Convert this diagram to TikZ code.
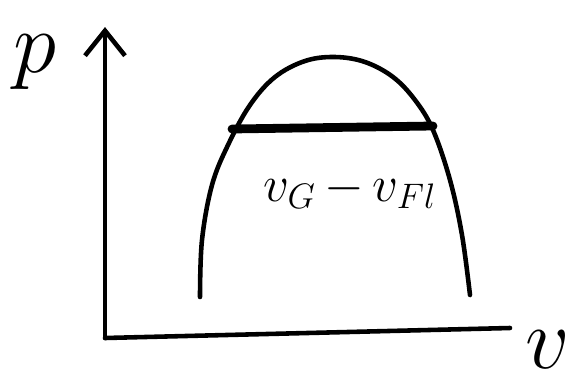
\documentclass[tikz,border=0pt]{standalone}
\usetikzlibrary{arrows.meta}
\begin{document}
\begin{tikzpicture}[
    x=0.02cm, y=-0.02cm,
    stroke/.style={line width=2.6pt, line cap=round, line join=round},
    heavy/.style={line width=5pt, line cap=round},
    axislbl/.style={font=\fontsize{20}{24}\selectfont, inner sep=0pt},
    difflbl/.style={font=\fontsize{20}{24}\selectfont, inner sep=0pt}
]
\useasboundingbox (0,0) rectangle (582,386);

% axes
\coordinate (origin) at (105,338);
\coordinate (ptop)   at (105,27);
\coordinate (vend)   at (510,328);
\draw[stroke, -{Straight Barb[length=5mm, width=8mm]}] (origin) -- (ptop);
\draw[stroke] (origin) -- (vend);
\node[axislbl] (plbl) at (35,62)  {\scalebox{2.4}{$p$}};
\node[axislbl] (vlbl) at (548,350) {\scalebox{2.4}{$v$}};

% saturation dome
\draw[stroke] plot[smooth, tension=0.6] coordinates {
    (200,297) (202,240) (212,185) (228,145) (250,105) (275,77) (305,61)
    (335,57) (365,62) (393,77) (415,100) (433,130) (450,180) (462,235)
    (470,295)};

% two-phase line
\coordinate (liq) at (232,129);
\coordinate (gas) at (433,126);
\draw[heavy] (liq) -- (gas);
\node[difflbl] (diff) at (350,190) {\scalebox{1.4}{$v_G\,{-}\,v_{Fl}$}};
\end{tikzpicture}
\end{document}
